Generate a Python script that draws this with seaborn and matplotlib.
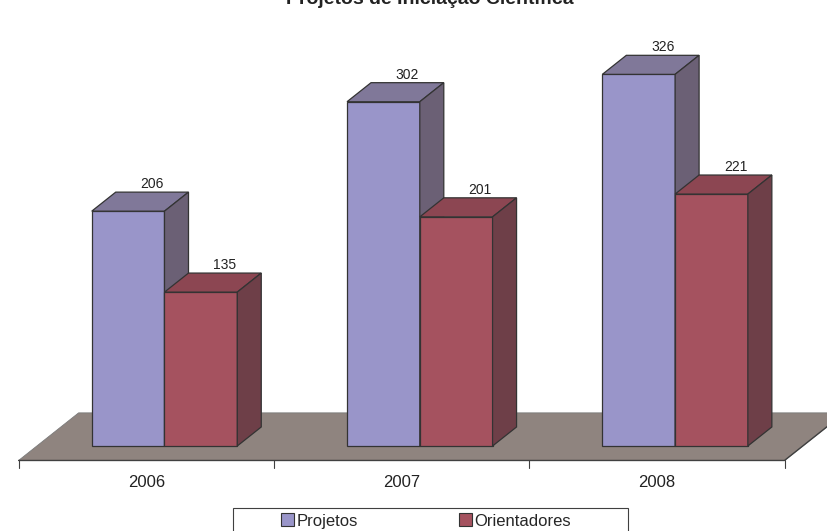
import pandas as pd
import seaborn as sns
import matplotlib.pyplot as plt
from matplotlib.patches import Polygon, Patch, Rectangle

# dados
anos = ["2006", "2007", "2008"]
projetos = [206, 302, 326]
orientadores = [135, 201, 221]
series = ["Projetos", "Orientadores"]

df = pd.DataFrame({
    "ano": anos * 2,
    "valor": projetos + orientadores,
    "serie": [series[0]] * 3 + [series[1]] * 3,
})

# cores (frente, topo, lateral)
cor_frente = ["#9995c9", "#a5525f"]
cor_topo = ["#807899", "#8c4652"]
cor_lado = ["#6b6075", "#6e3f48"]
cor_piso = "#8f847f"
cor_borda = "#333333"

# profundidade do efeito 3D (em unidades dos dados)
DX, DY = 0.094, 16.7
PISO_FRENTE, PISO_FUNDO = -0.76, 1.74

sns.set_theme(style="white")
plt.rcParams["font.family"] = ["Liberation Sans", "DejaVu Sans"]

fig = plt.figure(figsize=(8.28, 5.31), dpi=100)
ax = fig.add_axes([0, 0, 1, 1])

sns.barplot(data=df, x="ano", y="valor", hue="serie", palette=cor_frente,
            width=0.57, saturation=1, errorbar=None, edgecolor=cor_borda,
            linewidth=0.9, legend=False, ax=ax)

barras = list(ax.patches)

# piso
n = len(anos)
piso = [(-0.5 + PISO_FRENTE * DX, PISO_FRENTE * DY),
        (n - 0.5 + PISO_FRENTE * DX, PISO_FRENTE * DY),
        (n - 0.5 + PISO_FUNDO * DX, PISO_FUNDO * DY),
        (-0.5 + PISO_FUNDO * DX, PISO_FUNDO * DY)]
ax.add_patch(Polygon(piso, closed=True, facecolor=cor_piso,
                     edgecolor="#7a7a7a", linewidth=0.6, zorder=1))
ax.plot([piso[0][0], piso[1][0], piso[2][0]],
        [piso[0][1], piso[1][1], piso[2][1]], color="#404040", lw=1, zorder=1.5)

# marcas e rotulos do eixo
for k in range(n + 1):
    xk = k - 0.5 + PISO_FRENTE * DX
    ax.plot([xk, xk], [PISO_FRENTE * DY, PISO_FRENTE * DY - 6.5],
            color="#404040", lw=0.8)
for i, ano in enumerate(anos):
    ax.text(i + PISO_FRENTE * DX, PISO_FRENTE * DY - 19.5, ano,
            ha="center", va="center", fontsize=12, color="#222222")

# faces do topo e da lateral
for p in barras:
    x, w, h = p.get_x(), p.get_width(), p.get_height()
    j = 0 if x < round(x + w / 2) - 1e-6 else 1
    z = 3 + j
    p.set_zorder(z)
    topo = [(x, h), (x + w, h), (x + w + DX, h + DY), (x + DX, h + DY)]
    lado = [(x + w, 0), (x + w + DX, DY), (x + w + DX, h + DY), (x + w, h)]
    ax.add_patch(Polygon(topo, closed=True, facecolor=cor_topo[j],
                         edgecolor=cor_borda, linewidth=0.9, zorder=z))
    ax.add_patch(Polygon(lado, closed=True, facecolor=cor_lado[j],
                         edgecolor=cor_borda, linewidth=0.9, zorder=z))
    ax.text(x + w / 2 + DX, h + DY + 7, f"{h:.0f}", ha="center", va="center",
            fontsize=10, color="#222222", zorder=6)

# escala: 255.3 px por categoria, 1.14 px por unidade
ax.set_xlim(-164.5 / 255.3, (828 - 164.5) / 255.3)
ax.set_ylim(-(531 - 446) / 1.14, 446 / 1.14)
ax.axis("off")

# titulo (cortado na borda superior, como no original)
fig.text(430 / 828, 1 - 4 / 531, "Projetos de Iniciação Científica",
         ha="center", va="baseline", fontsize=14, fontweight="bold", color="#222222")

# legenda
fig.patches.append(Rectangle((233 / 828, -0.05), 395 / 828, 1 - 508 / 531 + 0.05,
                             transform=fig.transFigure, facecolor="white",
                             edgecolor="#404040", linewidth=0.8))
alcas = [Patch(facecolor=cor_frente[j], edgecolor=cor_borda, linewidth=0.8)
         for j in range(2)]
fig.legend(alcas, series, loc="center", bbox_to_anchor=(426 / 828, 1 - 521 / 531),
           ncol=2, frameon=False, fontsize=12, handlelength=0.78, handleheight=0.78,
           handletextpad=0.15, columnspacing=6.06, borderpad=0)

fig.savefig("out.png", dpi=100)
